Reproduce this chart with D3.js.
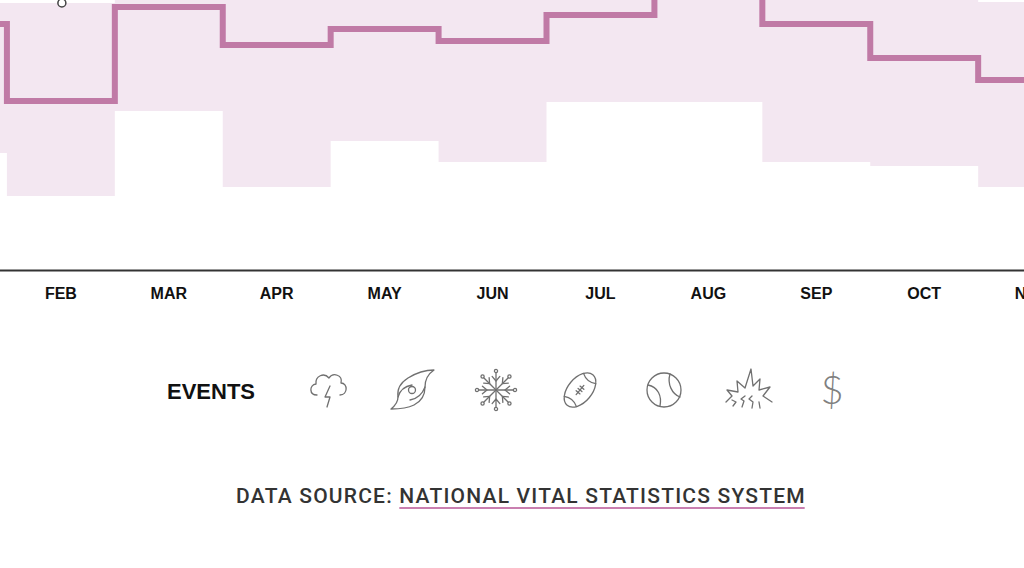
<!DOCTYPE html>
<html>
<head>
<meta charset="utf-8">
<script src="https://cdn.jsdelivr.net/npm/d3@7"></script>
<style>
  html, body { margin: 0; padding: 0; background: #fff; overflow: hidden; }
  svg { display: block; }
</style>
</head>
<body>
<div id="chart-container"></div>
<script>
// month categories and tick labels
const months = ["Jan", "Feb", "Mar", "Apr", "May", "Jun", "Jul", "Aug", "Sep", "Oct", "Nov", "Dec"];
const monthLabels = ["JAN", "FEB", "MAR", "APR", "MAY", "JUN", "JUL", "AUG", "SEP", "OCT", "NOV", "DEC"];

// step line (index) and the shaded range around it
const lineValues = [91.1, 62.6, 97.4, 83.3, 89.3, 84.8, 94.4, 107.4, 91.1, 78.5, 70.4, 75.0];
const bandLow    = [43.3, 27.4, 58.9, 30.7, 47.8, 40.0, 62.2, 62.2, 40.0, 38.5, 30.7, 35.0];
const bandHigh   = [98.9, 98.9, 104, 103, 102, 103, 104, 115, 105, 102, 99.3, 100];

// marker on the upper edge of the February range
const markerMonth = "Feb";
const markerValue = 98.9;

const events = ["storm", "hurricane", "snow", "football", "baseball", "fireworks", "money"];

const container = document.getElementById("chart-container");

function chart() {
    const width = 1024;
    const height = 568;
    const axisY = 270;

    const x = d3.scaleBand()
        .domain(months)
        .range([-101, 1194])
        .paddingInner(0).paddingOuter(0);

    const y = d3.scaleLinear()
        .domain([0, 100])
        .range([axisY, 0]);

    const svg = d3.create("svg")
        .attr("width", width)
        .attr("height", height);

    // step points: start of each month, plus the end of the last one
    const pts = months.map((m, i) => ({ x: x(m), i }));
    pts.push({ x: x(months[months.length - 1]) + x.bandwidth(), i: months.length - 1 });

    // shaded range
    svg.append("path")
        .datum(pts)
        .attr("fill", "#f3e7f1")
        .attr("d", d3.area()
            .curve(d3.curveStepAfter)
            .x(d => d.x)
            .y0(d => y(bandLow[d.i]))
            .y1(d => y(bandHigh[d.i])));

    // step line
    svg.append("path")
        .datum(pts)
        .attr("fill", "none")
        .attr("stroke", "#c07aa6")
        .attr("stroke-width", 6)
        .attr("stroke-linejoin", "miter")
        .attr("d", d3.line()
            .curve(d3.curveStepAfter)
            .x(d => d.x)
            .y(d => y(lineValues[d.i])));

    svg.append("circle")
        .attr("cx", x(markerMonth) + x.bandwidth() / 2 + 1)
        .attr("cy", y(markerValue))
        .attr("r", 4)
        .attr("fill", "#fff")
        .attr("stroke", "#444")
        .attr("stroke-width", 1.5);

    // month axis
    svg.append("g")
        .attr("transform", `translate(0,${axisY})`)
        .call(d3.axisBottom(x).tickSize(0).tickPadding(18)
            .tickFormat((d, i) => monthLabels[i]))
        .call(g => g.select(".domain").attr("stroke", "#333").attr("stroke-width", 2))
        .call(g => g.selectAll("text")
            .attr("font-family", "'Liberation Sans', Arial, sans-serif")
            .attr("font-weight", "bold")
            .attr("font-size", 16)
            .attr("fill", "#111"));

    // events row
    svg.append("text")
        .attr("x", 167)
        .attr("y", 399)
        .attr("font-family", "'Liberation Sans', Arial, sans-serif")
        .attr("font-weight", "bold")
        .attr("font-size", 22)
        .attr("fill", "#111")
        .text("EVENTS");

    const ex = d3.scalePoint().domain(events).range([328, 832]);

    const icons = {
        storm: g => {
            g.append("path").attr("d",
                "M-11,5 C-19,5 -19,-5 -12,-6 C-13,-14 -4,-18 1,-12 C5,-18 15,-15 13,-7 C20,-7 20,5 12,5");
            g.append("path").attr("d", "M2,-4 L-3,7 L2,7 L-1,17");
        },
        hurricane: g => {
            g.append("circle").attr("r", 3.5);
            // two swept arms with pointed tails
            g.append("path").attr("d",
                "M22,-20 C14,-20 4,-17 -4,-12 C-12,-7 -15,0 -14,7 C-14,12 -16,15 -21,19 " +
                "C-12,19 -4,18 2,15 C10,11 13,4 13,-3 C13,-10 16,-16 22,-20 Z");
            g.append("path").attr("d", "M-14,7 C-12,0 -6,-4 0,-5 M13,-3 C10,5 4,9 -2,10");
        },
        snow: g => {
            for (let a = 0; a < 360; a += 45) {
                const r = a * Math.PI / 180, c = Math.cos(r), s = Math.sin(r);
                g.append("line").attr("x1", 0).attr("y1", 0).attr("x2", 17 * c).attr("y2", 17 * s);
                g.append("circle").attr("cx", 19 * c).attr("cy", 19 * s).attr("r", 1.6);
                const bx = 9 * c, by = 9 * s;
                const r1 = r + 0.7, r2 = r - 0.7;
                g.append("path").attr("d",
                    `M${bx + 6 * Math.cos(r1)},${by + 6 * Math.sin(r1)} L${bx},${by} L${bx + 6 * Math.cos(r2)},${by + 6 * Math.sin(r2)}`);
            }
        },
        football: g => {
            const b = g.append("g").attr("transform", "rotate(-50)");
            b.append("ellipse").attr("rx", 20).attr("ry", 12);
            b.append("path").attr("d", "M-15,-8 C-12,-3 -12,3 -15,8 M15,-8 C12,-3 12,3 15,8");
            b.append("line").attr("x1", -6).attr("x2", 6).attr("y1", 0).attr("y2", 0);
            for (const lx of [-3, 0, 3]) b.append("line").attr("x1", lx).attr("x2", lx).attr("y1", -2.5).attr("y2", 2.5);
        },
        baseball: g => {
            g.append("circle").attr("r", 17);
            g.append("path").attr("d", "M-16,-5 C-6,-3 -2,6 -4,16");
            g.append("path").attr("d", "M6,-16 C3,-6 8,4 16,7");
        },
        fireworks: g => {
            g.append("path").attr("d",
                "M-22,12 L-16,6 L-21,0 L-10,2 L-11,-9 L-3,-2 L3,-21 L5,-4 L12,-11 L11,0 L22,-3 L15,6 L24,12");
            g.append("path").attr("d", "M-15,16 L-12,12 L-16,10 M-6,17 L-4,11 L-7,9 L-3,6 M4,18 L5,12 L1,9 L4,6 M12,18 L11,12");
        },
        money: g => {
            g.append("text")
                .attr("text-anchor", "middle")
                .attr("dy", "0.35em")
                .attr("font-family", "Lato, 'DejaVu Sans', sans-serif")
                .attr("font-weight", 300)
                .attr("font-size", 40)
                .attr("fill", "#808080")
                .attr("stroke", "none")
                .text("$");
        }
    };

    const eg = svg.append("g")
        .selectAll("g")
        .data(events)
        .join("g")
        .attr("transform", d => `translate(${ex(d)},390)`)
        .attr("fill", "none")
        .attr("stroke", "#707070")
        .attr("stroke-width", 1.3)
        .attr("stroke-linecap", "round")
        .attr("stroke-linejoin", "round");
    eg.each(function(d) { icons[d](d3.select(this)); });

    // data source line
    const src = svg.append("text")
        .attr("x", 521)
        .attr("y", 503)
        .attr("text-anchor", "middle")
        .attr("font-family", "Roboto, 'Liberation Sans', sans-serif")
        .attr("font-weight", 500)
        .attr("font-size", 21)
        .attr("letter-spacing", 1.2)
        .attr("fill", "#333");
    src.append("tspan").text("DATA SOURCE: ");
    const link = src.append("tspan").text("NATIONAL VITAL STATISTICS SYSTEM");

    return { node: svg.node(), link, svg };
}

const out = chart();
container.appendChild(out.node);
const bb = out.link.node().getBBox();
out.svg.append("line")
    .attr("x1", bb.x)
    .attr("x2", bb.x + bb.width - 1.2)
    .attr("y1", 508)
    .attr("y2", 508)
    .attr("stroke", "#c97fb0")
    .attr("stroke-width", 2);
</script>
</body>
</html>
